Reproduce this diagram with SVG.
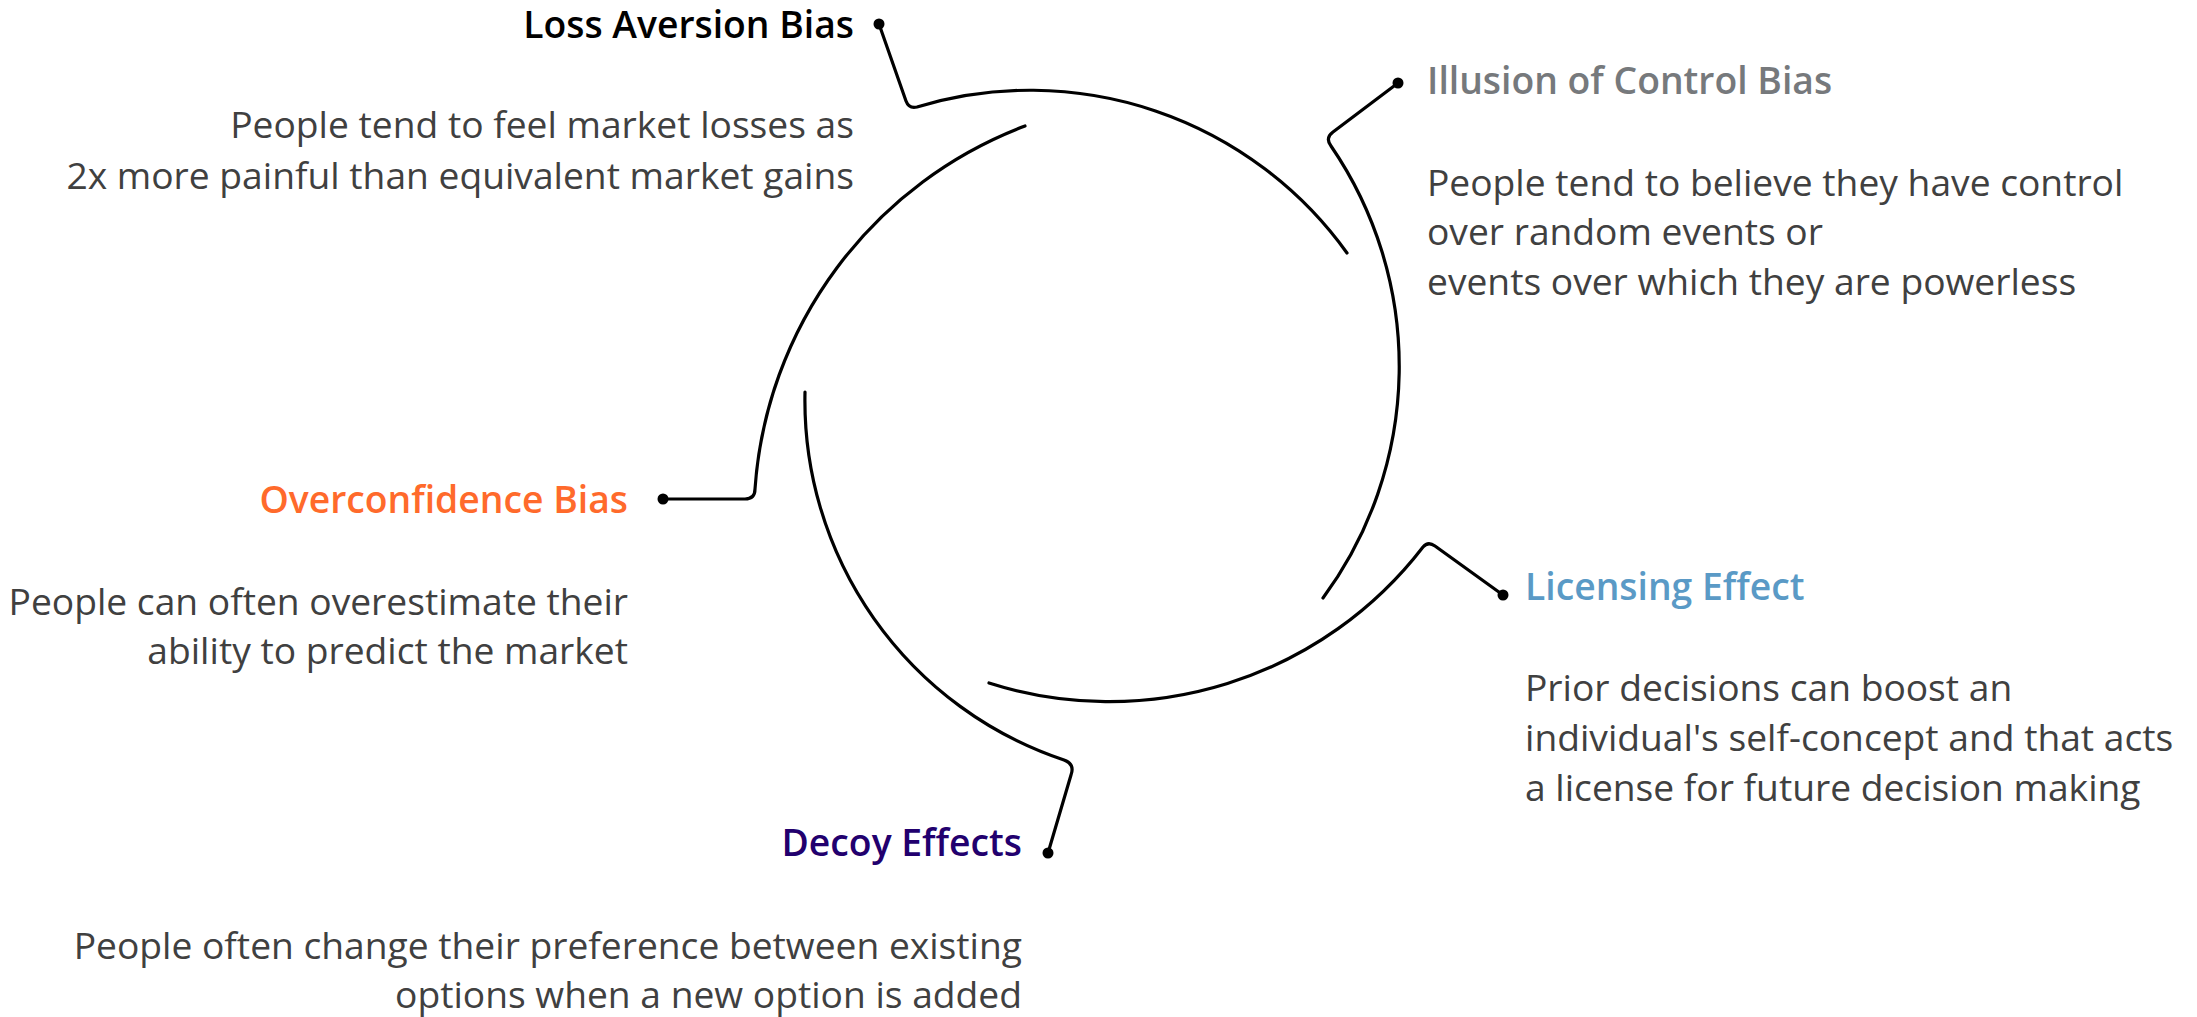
<svg xmlns="http://www.w3.org/2000/svg" width="2197" height="1017" viewBox="0 0 2197 1017">
<style>
.t{font-family:"Open Sans","Noto Sans","DejaVu Sans",sans-serif;font-size:37.3px;font-weight:600}
.b{font-family:"Open Sans","Noto Sans","DejaVu Sans",sans-serif;font-size:37.2px;fill:#404040}
.c{fill:none;stroke:#000;stroke-width:3.2;stroke-linecap:round;stroke-linejoin:round}
.e{text-anchor:end}
</style>
<rect width="2197" height="1017" fill="#fff"/>
<g id="connectors">
<path class="c" d="M879,24 L906,101 Q909,109 917,107 A390,390 0 0 1 1347,253"/>
<path class="c" d="M1398,83 L1333,132 Q1325,138 1331,146 A390,390 0 0 1 1323,598"/>
<path class="c" d="M1503,595 L1435,546 Q1428,541 1423,547 A396,396 0 0 1 989,683"/>
<path class="c" d="M805,392 A379,379 0 0 0 1064,760 Q1075,764 1071,775 L1048,853"/>
<path class="c" d="M663,499 L745,499 Q755,499 755,489 A419,419 0 0 1 1025,126"/>
<circle cx="879" cy="24" r="5.5"/>
<circle cx="1398" cy="83" r="5.5"/>
<circle cx="1503" cy="595" r="5.5"/>
<circle cx="1048" cy="853" r="5.5"/>
<circle cx="663" cy="499" r="5.5"/>
</g>
<g id="loss-aversion">
<text class="t e" x="854" y="38" fill="#000">Loss Aversion Bias</text>
<text class="b e" x="854" y="138">People tend to feel market losses as</text>
<text class="b e" x="854" y="189">2x more painful than equivalent market gains</text>
</g>
<g id="illusion-of-control">
<text class="t" x="1427" y="94" fill="#76797c">Illusion of Control Bias</text>
<text class="b" x="1427" y="196">People tend to believe they have control</text>
<text class="b" x="1427" y="245">over random events or</text>
<text class="b" x="1427" y="295">events over which they are powerless</text>
</g>
<g id="licensing-effect">
<text class="t" x="1525" y="600" fill="#5a9ac6">Licensing Effect</text>
<text class="b" x="1525" y="701">Prior decisions can boost an</text>
<text class="b" x="1525" y="751">individual's self-concept and that acts</text>
<text class="b" x="1525" y="801">a license for future decision making</text>
</g>
<g id="decoy-effects">
<text class="t e" x="1022" y="856" fill="#22006e">Decoy Effects</text>
<text class="b e" x="1022" y="959">People often change their preference between existing</text>
<text class="b e" x="1022" y="1008">options when a new option is added</text>
</g>
<g id="overconfidence">
<text class="t e" x="628" y="513" fill="#ff6a2b">Overconfidence Bias</text>
<text class="b e" x="628" y="615">People can often overestimate their</text>
<text class="b e" x="628" y="664">ability to predict the market</text>
</g>
</svg>
